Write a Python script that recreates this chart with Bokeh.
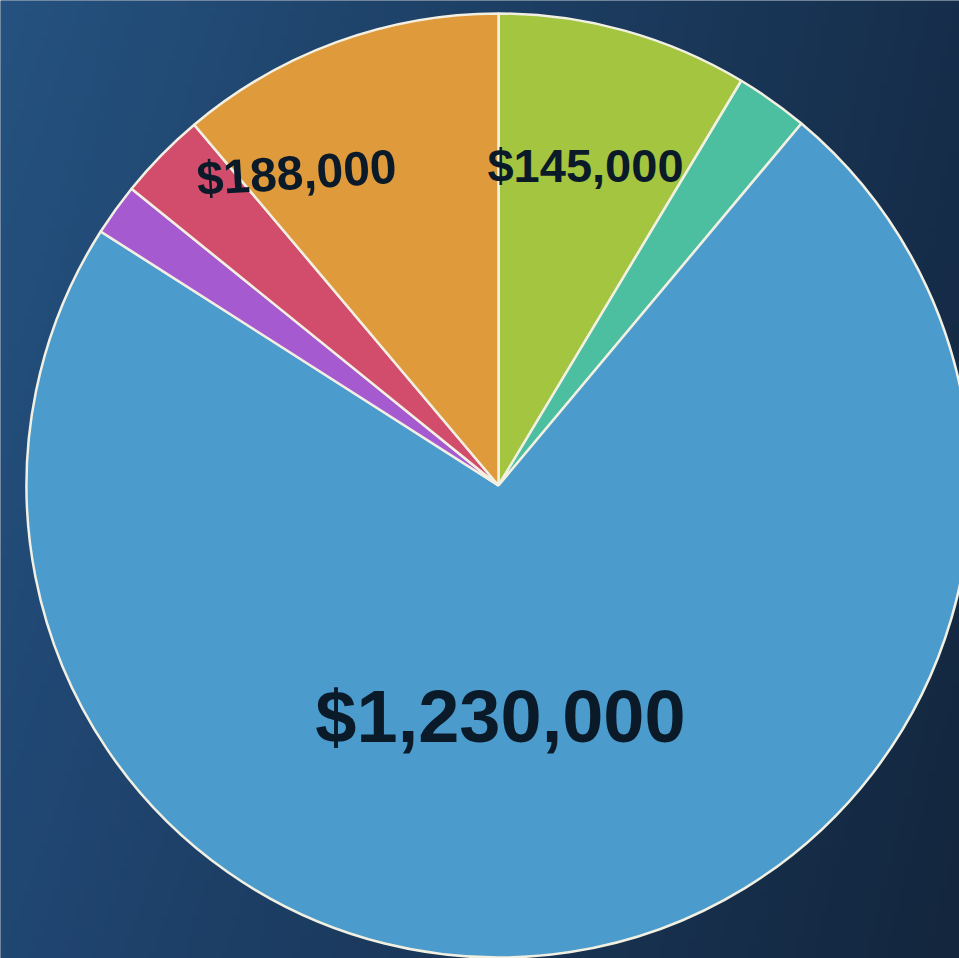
import numpy as np
from bokeh.plotting import figure
from bokeh.models import Range1d, ColumnDataSource
from bokeh.core.properties import value
from bokeh.embed import file_html
from bokeh.resources import INLINE

# ---- data ----
categories = ["Green", "Teal", "Blue", "Purple", "Red", "Orange"]
amounts = [145000, 42000, 1230000, 30000, 51000, 188000]
colors = ["#A3C540", "#4BBFA0", "#4B9BCC", "#A65AD0", "#D24C6C", "#DF9A3C"]
label_text = ["$145,000", "$188,000", "$1,230,000"]

W, H = 959, 958
p = figure(width=W, height=H, output_backend="svg", toolbar_location=None,
           x_range=Range1d(0, W), y_range=Range1d(0, H),
           min_border=0, outline_line_color=None)
p.axis.visible = False
p.grid.visible = False
p.background_fill_color = "#1c3c61"
p.border_fill_color = "#1c3c61"

# background gradient (decorative)
n = 160
xs = np.linspace(0, 1, n)[None, :]
ys = np.linspace(0, 1, n)[:, None]  # row 0 = bottom
tl = np.array([0x25, 0x52, 0x80], float)
tr = np.array([0x16, 0x2e, 0x4b], float)
bl = np.array([0x20, 0x46, 0x72], float)
br = np.array([0x13, 0x26, 0x3d], float)
img = np.zeros((n, n), dtype=np.uint32)
view = img.view(dtype=np.uint8).reshape((n, n, 4))
for c in range(3):
    top = tl[c] * (1 - xs) + tr[c] * xs
    bot = bl[c] * (1 - xs) + br[c] * xs
    view[:, :, c] = (bot * (1 - ys) + top * ys).astype(np.uint8)
view[:, :, 3] = 255
p.image_rgba(image=[img], x=0, y=0, dw=W, dh=H)

# pie
cx, cy, r = 498, 473, 472
vals = np.array(amounts, float)
frac = vals / vals.sum()
cum_after = np.cumsum(frac)
cum_before = cum_after - frac
start = np.pi / 2 - cum_after * 2 * np.pi
end = np.pi / 2 - cum_before * 2 * np.pi
src = ColumnDataSource(dict(cat=categories, start=start, end=end, color=colors))
p.wedge(x=cx, y=cy, radius=r, start_angle="start", end_angle="end",
        fill_color="color", line_color="#f2f0e2", line_width=2.5, source=src)

# labels
lbl = ColumnDataSource(dict(
    x=[cx + 87, cx - 202, cx + 2],
    y=[cy + 320, cy + 313, cy - 231],
    text=label_text,
    size=["47px", "48px", "74px"],
    angle=[0.0, 0.063, 0.0],
))
p.text(x="x", y="y", text="text", angle="angle", text_font_size="size",
       text_font=value("Liberation Sans"), text_font_style="bold",
       text_color="#0b1a29", text_align="center", text_baseline="alphabetic",
       source=lbl)

html = file_html(p, INLINE)
html = html.replace("<body>", '<body style="background:#1c3c61;">', 1)
open("out.html", "w").write(html)
